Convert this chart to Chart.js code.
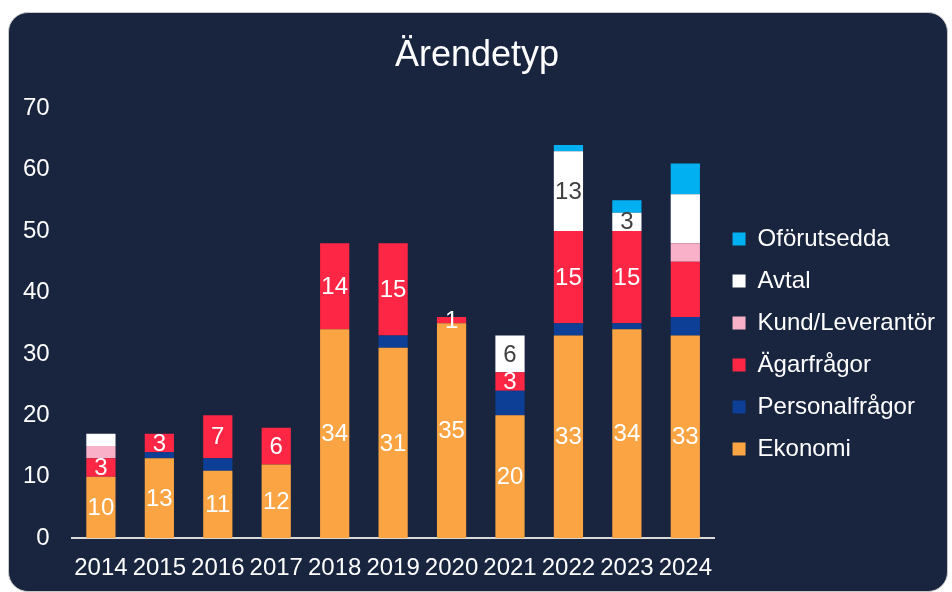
<!DOCTYPE html>
<html>
<head>
    <title>Ärendetyp</title>
    <script src="https://cdn.jsdelivr.net/npm/chart.js"></script>
    <style>
        body { margin: 0; background: #ffffff; }
        #panel {
            position: absolute; left: 8px; top: 12px;
            width: 940px; height: 580px;
            background: #19253f;
            border: 1px solid #c8c8c8;
            border-radius: 20px;
            box-sizing: border-box;
            overflow: hidden;
        }
    </style>
</head>
<body>
    <div id="panel"><canvas id="arendeChart" width="938" height="578"></canvas></div>
    <script>
        const years = ['2014', '2015', '2016', '2017', '2018', '2019', '2020', '2021', '2022', '2023', '2024'];
        const ekonomi        = [10, 13, 11, 12, 34, 31, 35, 20, 33, 34, 33];
        const personalfragor = [0, 1, 2, 0, 0, 2, 0, 4, 2, 1, 3];
        const agarfragor     = [3, 3, 7, 6, 14, 15, 1, 3, 15, 15, 9];
        const kundLeverantor = [2, 0, 0, 0, 0, 0, 0, 0, 0, 0, 3];
        const avtal          = [2, 0, 0, 0, 0, 0, 0, 6, 13, 3, 8];
        const oforutsedda    = [0, 0, 0, 0, 0, 0, 0, 0, 1, 2, 5];
        const yTicks = [0, 10, 20, 30, 40, 50, 60, 70];

        // which years get a number printed on the segment
        const ekonomiLabelYears = years;
        const agarLabelYears = ['2014', '2015', '2016', '2017', '2018', '2019', '2020', '2021', '2022', '2023'];
        const avtalLabelYears = ['2021', '2022', '2023'];

        const font = 'Liberation Sans, Arial, sans-serif';

        const segmentLabels = {
            id: 'segmentLabels',
            afterDatasetsDraw(chart) {
                const c = chart.ctx;
                c.save();
                c.font = '24px ' + font;
                c.textAlign = 'center';
                c.textBaseline = 'middle';
                chart.data.datasets.forEach((ds, i) => {
                    if (!ds.labelYears) return;
                    const meta = chart.getDatasetMeta(i);
                    meta.data.forEach((bar, j) => {
                        const v = ds.data[j];
                        if (!v || !ds.labelYears.includes(years[j])) return;
                        const p = bar.getProps(['x', 'y', 'base'], true);
                        c.fillStyle = ds.labelColor;
                        c.fillText(String(v), p.x, (p.y + p.base) / 2 + 1);
                    });
                });
                c.restore();
            }
        };

        const ctx = document.getElementById('arendeChart').getContext('2d');
        const data = {
            labels: years,
            datasets: [
                { label: 'Ekonomi', data: ekonomi, backgroundColor: '#fba443', labelYears: ekonomiLabelYears, labelColor: '#ffffff' },
                { label: 'Personalfrågor', data: personalfragor, backgroundColor: '#0c3f95' },
                { label: 'Ägarfrågor', data: agarfragor, backgroundColor: '#fd2644', labelYears: agarLabelYears, labelColor: '#ffffff' },
                { label: 'Kund/Leverantör', data: kundLeverantor, backgroundColor: '#f9b1ca' },
                { label: 'Avtal', data: avtal, backgroundColor: '#ffffff', labelYears: avtalLabelYears, labelColor: '#404040' },
                { label: 'Oförutsedda', data: oforutsedda, backgroundColor: '#00b0f0' }
            ]
        };
        const config = {
            type: 'bar',
            data: data,
            options: {
                responsive: false,
                animation: false,
                layout: { padding: { left: 0, right: 2, bottom: 0 } },
                datasets: { bar: { barPercentage: 0.5, categoryPercentage: 1.0 } },
                plugins: {
                    title: {
                        display: true,
                        text: 'Ärendetyp',
                        color: '#ffffff',
                        font: { family: font, size: 36, weight: 'normal' },
                        padding: { top: 21, bottom: 31 }
                    },
                    legend: {
                        position: 'right',
                        reverse: true,
                        title: { display: true, text: ' ', font: { size: 10 }, padding: { top: 36, bottom: 36 } },
                        labels: {
                            color: '#ffffff',
                            boxWidth: 13,
                            boxHeight: 13,
                            padding: 18,
                            font: { family: font, size: 24 }
                        }
                    },
                    tooltip: { enabled: false }
                },
                scales: {
                    x: {
                        stacked: true,
                        grid: { display: false },
                        border: { color: '#d9d9d9', width: 2 },
                        ticks: { color: '#ffffff', font: { family: font, size: 24 }, padding: 8, maxRotation: 0, autoSkip: false }
                    },
                    y: {
                        stacked: true,
                        min: yTicks[0],
                        max: yTicks[yTicks.length - 1],
                        grid: { display: false },
                        border: { display: false },
                        afterBuildTicks(axis) { axis.ticks = yTicks.map(v => ({ value: v })); },
                        ticks: { color: '#ffffff', font: { family: font, size: 24 }, padding: 14 }
                    }
                }
            },
            plugins: [segmentLabels]
        };
        const arendeChart = new Chart(ctx, config);
    </script>
</body>
</html>
